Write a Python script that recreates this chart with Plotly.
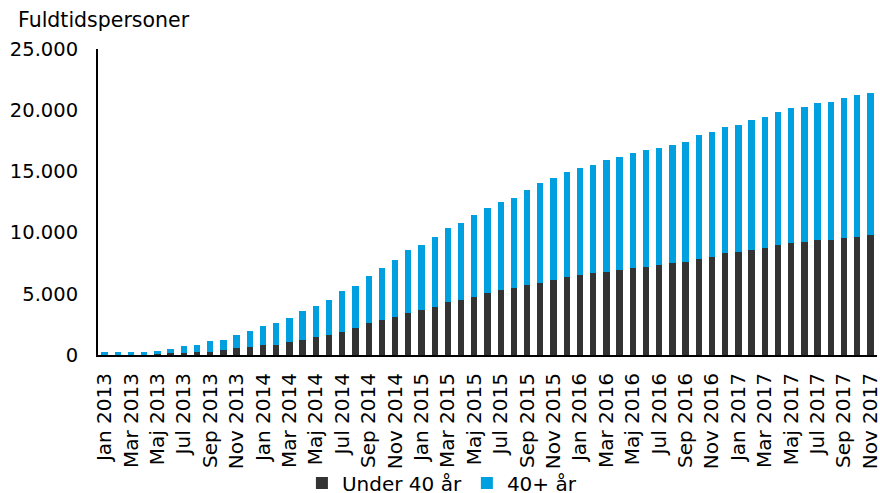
import plotly.graph_objects as go

months_da = ["Jan", "Feb", "Mar", "Apr", "Maj", "Jun", "Jul", "Aug", "Sep", "Okt", "Nov", "Dec"]
categories = []
for yr in range(2013, 2018):
    for m in months_da:
        categories.append(f"{m} {yr}")
categories = categories[:59]  # Jan 2013 .. Nov 2017

under40 = [40, 40, 40, 40, 80, 160, 160, 270, 270, 435,
           570, 680, 845, 845, 1090, 1250, 1500, 1660, 1905, 2180,
           2590, 2870, 3130, 3400, 3700, 3950, 4360, 4490, 4765, 5040,
           5310, 5445, 5745, 5855, 6130, 6400, 6535, 6670, 6810, 6945,
           7080, 7215, 7350, 7490, 7625, 7870, 8030, 8305, 8440, 8580,
           8715, 8985, 9120, 9260, 9395, 9395, 9530, 9665, 9800]

over40 = [190, 200, 200, 210, 250, 290, 550, 575, 845, 815,
          1090, 1250, 1495, 1770, 1930, 2345, 2475, 2860, 3325, 3430,
          3840, 4220, 4630, 5180, 5290, 5720, 5990, 6265, 6675, 6940,
          7215, 7355, 7735, 8165, 8300, 8575, 8715, 8850, 9120, 9255,
          9395, 9535, 9530, 9665, 9805, 10100, 10215, 10345, 10350, 10620,
          10755, 10895, 11030, 11030, 11165, 11305, 11440, 11575, 11580]

tick_labels = categories[::2]
y_ticks = [0, 5000, 10000, 15000, 20000, 25000]

FONT = "DejaVu Sans"
fig = go.Figure()
fig.add_trace(go.Bar(x=categories, y=under40, name="Under 40 år",
                     marker=dict(color="#333333", line=dict(width=0)), width=0.48))
fig.add_trace(go.Bar(x=categories, y=over40, name="40+ år",
                     marker=dict(color="#009FDF", line=dict(width=0)), width=0.48))

fig.update_layout(
    barmode="stack",
    width=880, height=493,
    margin=dict(l=98, r=3, t=49, b=138),
    paper_bgcolor="white", plot_bgcolor="white",
    separators=",.",
    font=dict(family=FONT, size=20, color="#000000"),
    showlegend=True,
    legend=dict(orientation="h", x=0.4415, xanchor="center",
                yref="container", y=0.0203, yanchor="middle",
                font=dict(size=20), itemwidth=30, traceorder="normal",
                bgcolor="rgba(0,0,0,0)"),
    annotations=[dict(text="Fuldtidspersoner", xref="paper", yref="paper",
                      x=-0.1052, y=1.0948, xanchor="left", yanchor="middle",
                      showarrow=False, font=dict(size=20.5, family=FONT))],
)
fig.update_xaxes(
    type="category", tickmode="array", tickvals=tick_labels, ticktext=tick_labels,
    tickangle=-90, showline=True, linecolor="#000000", linewidth=2,
    showgrid=False, ticks="", tickfont=dict(size=20), range=[-0.5, 58.5],
    automargin=False, ticklabelstandoff=8,
)
fig.update_yaxes(
    range=[0, 25000], tickvals=y_ticks, tickformat=",d",
    showline=True, linecolor="#000000", linewidth=2, showgrid=False,
    ticks="", zeroline=False, tickfont=dict(size=19.5), ticklabelstandoff=14,
    automargin=False,
)

fig.write_html("out.html", config={"displayModeBar": False},
               post_script="document.body.style.margin='0';document.body.style.padding='0';")
